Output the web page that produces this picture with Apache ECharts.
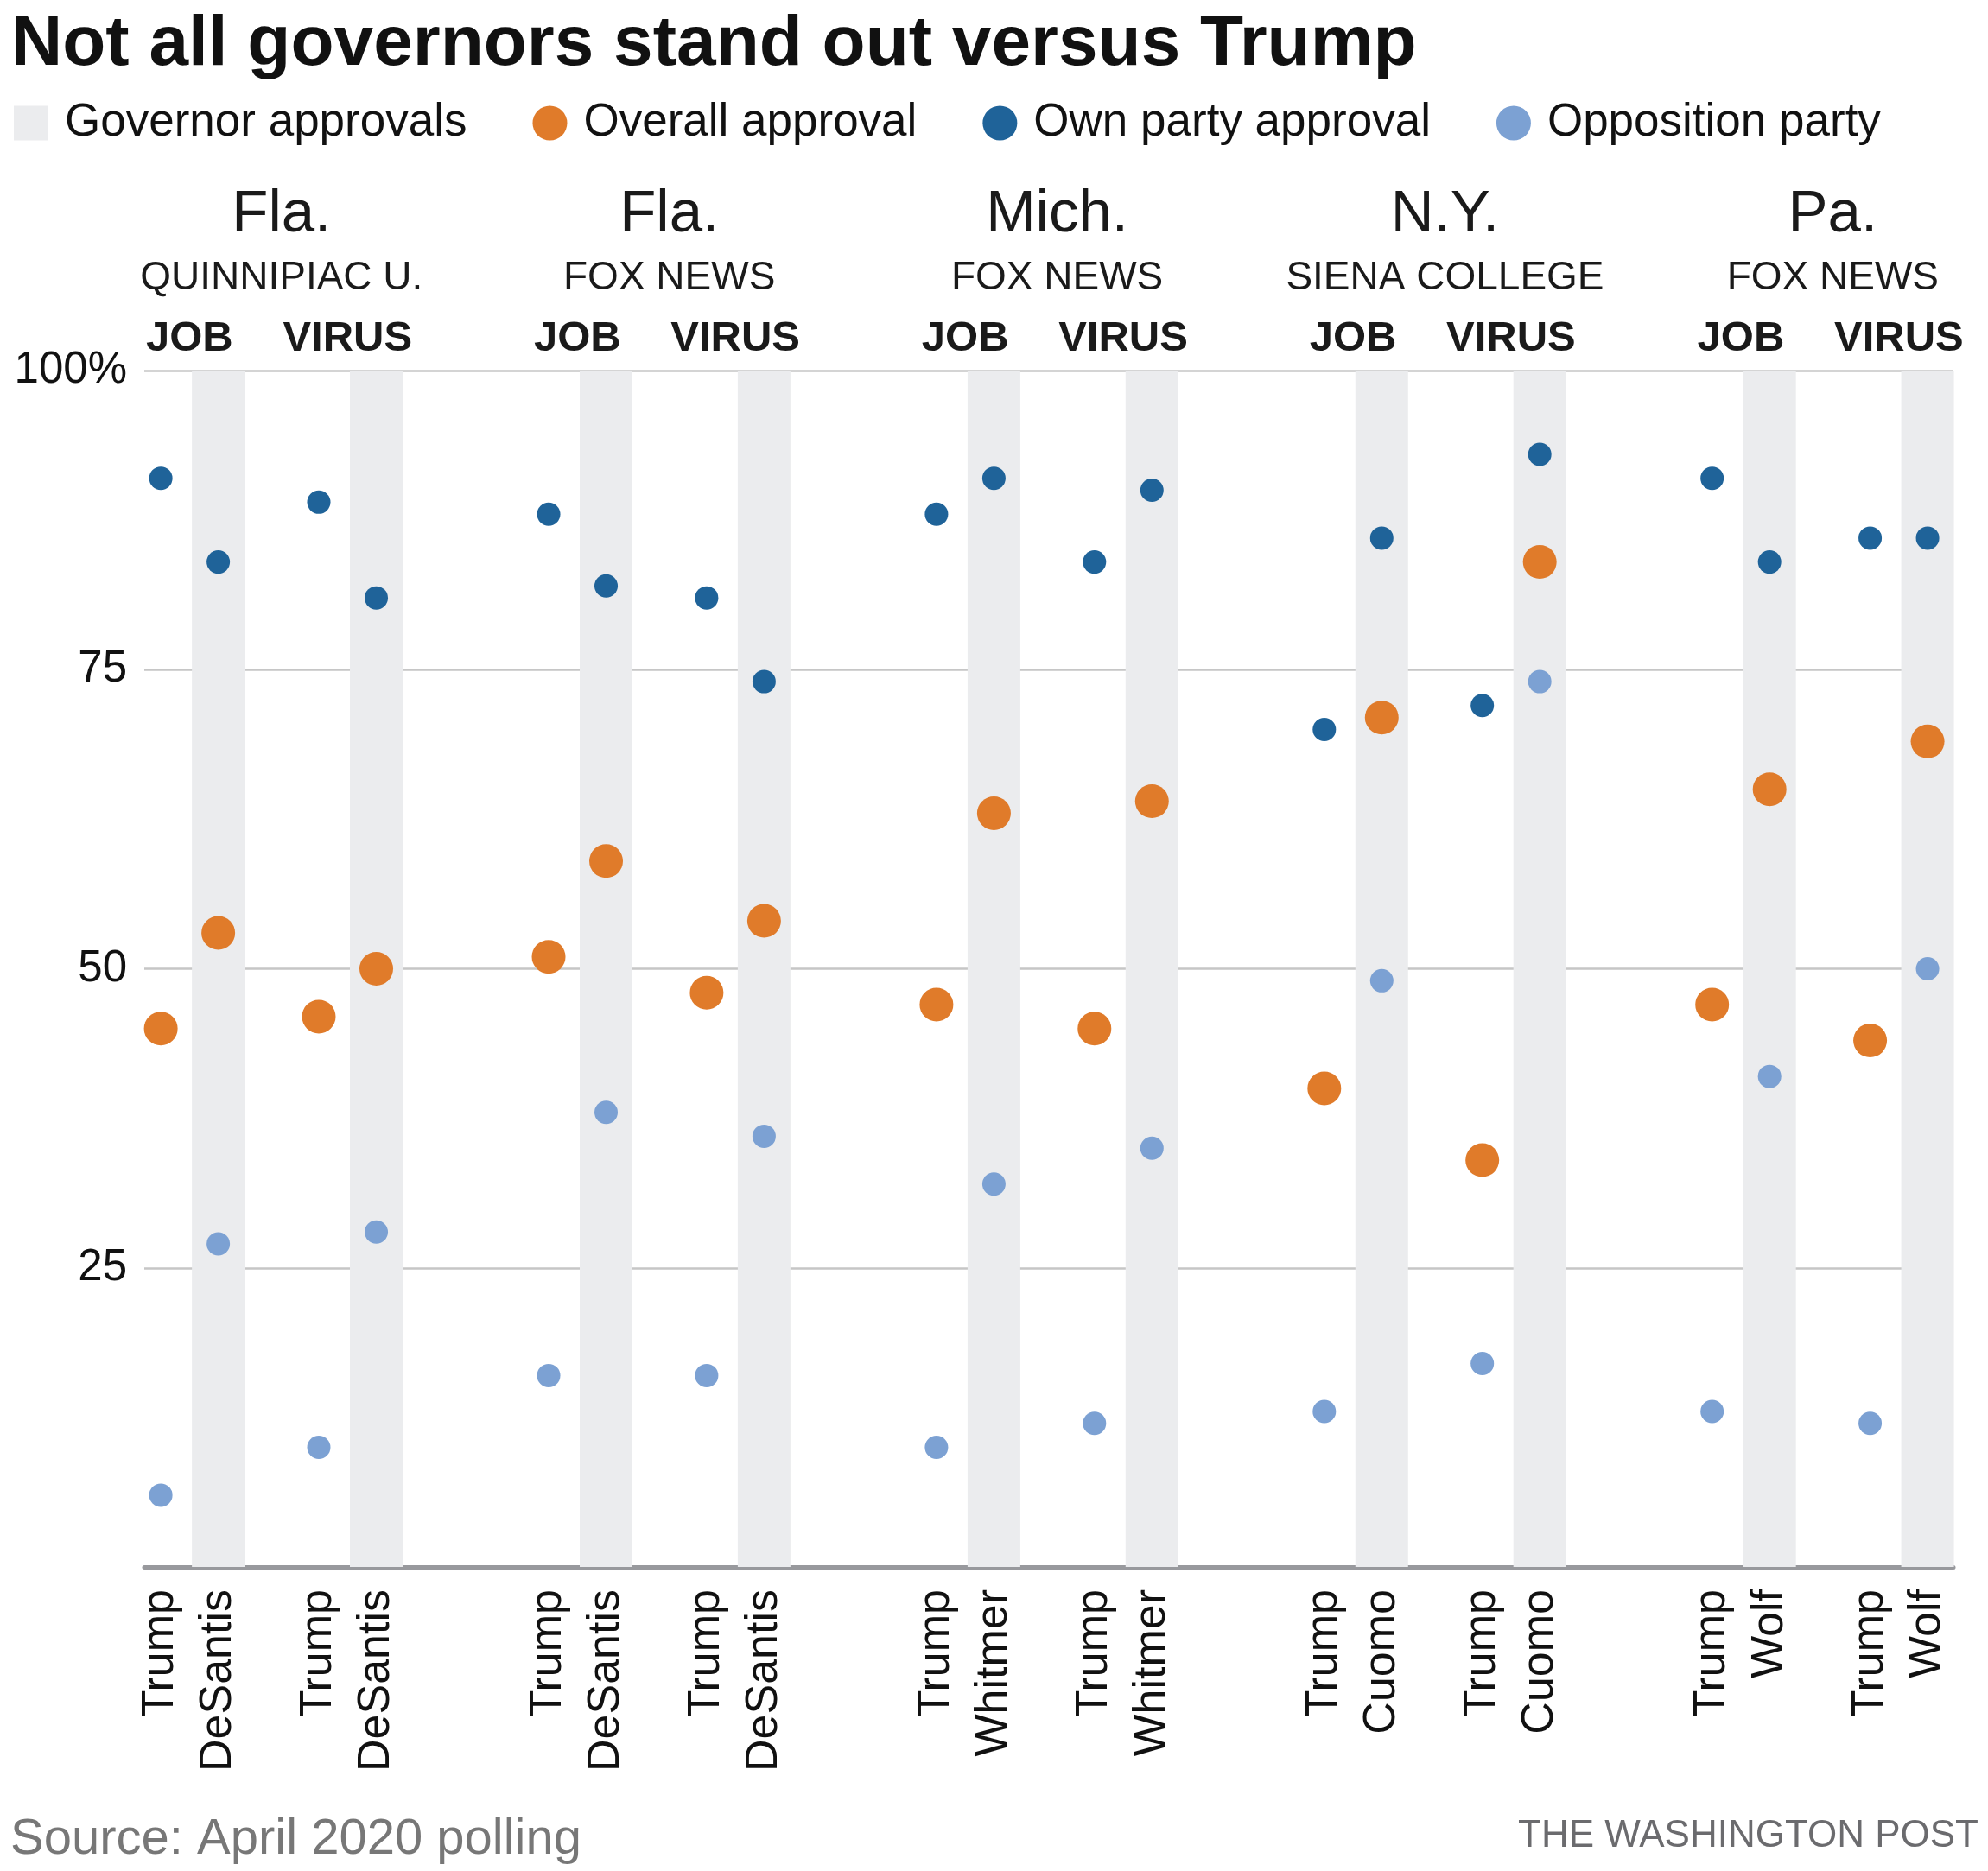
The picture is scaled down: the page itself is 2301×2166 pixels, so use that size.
<!DOCTYPE html>
<html><head><meta charset="utf-8">
<script src="https://cdn.jsdelivr.net/npm/echarts@6/dist/echarts.min.js"></script>
<style>html,body{margin:0;padding:0;background:#fff}#c{width:2301px;height:2166px}</style>
</head><body><div id="c"></div>
<script>
// ---- data ----
const states = ['Fla.', 'Fla.', 'Mich.', 'N.Y.', 'Pa.'];
const pollsters = ['QUINNIPIAC U.', 'FOX NEWS', 'FOX NEWS', 'SIENA COLLEGE', 'FOX NEWS'];
const governors = ['DeSantis', 'DeSantis', 'Whitmer', 'Cuomo', 'Wolf'];
const measures = ['JOB', 'VIRUS'];
// order within each state: Trump JOB, Governor JOB, Trump VIRUS, Governor VIRUS
const overallApproval = [45, 53, 46, 50, 51, 59, 48, 54, 47, 63, 45, 64, 40, 71, 34, 84, 47, 65, 44, 69];
const ownPartyApproval = [91, 84, 89, 81, 88, 82, 81, 74, 88, 91, 84, 90, 70, 86, 72, 93, 91, 84, 86, 86];
const oppositionParty = [6, 27, 10, 28, 16, 38, 16, 36, 10, 32, 12, 35, 13, 49, 17, 74, 13, 41, 12, 50];
const yTicks = [0, 25, 50, 75, 100];

// ---- layout (slot units on the x scale) ----
const GROUP = 27, PAIR = 11, CAND = 4;
const cols = [];
states.forEach((s, g) => measures.forEach((m, mi) => ['Trump', governors[g]].forEach((n, ci) => {
  cols.push({ x: g * GROUP + mi * PAIR + ci * CAND, name: n, gov: ci === 1 });
})));
const key = v => (Math.round(v * 100) / 100).toFixed(2);
function labelAxis(entries) {
  const map = {};
  entries.forEach(e => { map[key(e[0])] = e[1]; });
  return { values: entries.map(e => e[0]), fmt: v => map[key(v)] || '' };
}
const nameAx = labelAxis(cols.map(c => [c.x, c.name]));
const measAx = labelAxis([].concat(...states.map((s, g) => measures.map((m, mi) => [g * GROUP + mi * PAIR + 2.0, m]))));
const pollAx = labelAxis(pollsters.map((p, g) => [g * GROUP + 8.4, p]));
const stateAx = labelAxis(states.map((s, g) => [g * GROUP + 8.4, s]));

const XMIN = -1.15, XMAX = 124.8;
const SANS = "'Liberation Sans', Arial, sans-serif";

function topAxis(ax, margin, fontSize, fontWeight) {
  return {
    type: 'value', gridIndex: 0, position: 'top', offset: 0, min: XMIN, max: XMAX,
    axisLine: { show: false }, axisTick: { show: false }, splitLine: { show: false },
    axisLabel: { customValues: ax.values, formatter: ax.fmt, margin: margin, fontSize: fontSize,
      fontWeight: fontWeight, fontFamily: SANS, color: '#1a1a1a' }
  };
}

const chart = echarts.init(document.getElementById('c'), null, { renderer: 'canvas' });
chart.setOption({
  animation: false,
  backgroundColor: '#fff',
  title: {
    text: 'Not all governors stand out versus Trump', left: 8, top: 6,
    textStyle: { fontSize: 82, fontWeight: 'bold', color: '#111', fontFamily: SANS }
  },
  legend: {
    left: 11, top: 111, itemWidth: 40, itemHeight: 40, itemGap: 76, selectedMode: false,
    textStyle: { fontSize: 53, color: '#111', fontFamily: SANS, padding: [0, 0, 0, 14] },
    data: [
      { name: 'Governor approvals', icon: 'rect' },
      { name: 'Overall approval', icon: 'circle' },
      { name: 'Own party approval', icon: 'circle' },
      { name: 'Opposition party', icon: 'circle' }
    ]
  },
  grid: { left: 167, right: 40, top: 429, bottom: 352 },
  xAxis: [
    {
      type: 'value', min: XMIN, max: XMAX, position: 'bottom',
      splitLine: { show: false }, axisTick: { show: false },
      axisLine: { show: true, onZero: false, lineStyle: { color: '#98999d', width: 5 } },
      axisLabel: { customValues: nameAx.values, formatter: nameAx.fmt, rotate: 90, margin: 26,
        fontSize: 52, color: '#111', fontFamily: SANS }
    },
    topAxis(measAx, 12, 49, 'bold'),
    topAxis(pollAx, 84, 46, 'normal'),
    topAxis(stateAx, 146, 69, 'normal')
  ],
  yAxis: {
    type: 'value', min: 0, max: 100, interval: 25,
    axisLine: { show: false }, axisTick: { show: false },
    splitLine: { show: true, lineStyle: { color: '#c6c6c6', width: 2.5 } },
    axisLabel: { margin: 20, fontSize: 51, color: '#111', fontFamily: SANS,
      customValues: yTicks,
      formatter: v => v === 100 ? '100%' : (v === 0 ? '' : String(v)) }
  },
  series: [
    {
      name: 'Governor approvals', type: 'bar', silent: true, z: 1, barWidth: 61,
      itemStyle: { color: '#ebecee' },
      data: cols.filter(c => c.gov).map(c => [c.x, 100])
    },
    {
      name: 'Own party approval', type: 'scatter', symbolSize: 27, z: 3, silent: true,
      itemStyle: { color: '#1f6399', opacity: 1 },
      data: ownPartyApproval.map((v, i) => [cols[i].x, v])
    },
    {
      name: 'Opposition party', type: 'scatter', symbolSize: 27, z: 3, silent: true,
      itemStyle: { color: '#7ca1d3', opacity: 1 },
      data: oppositionParty.map((v, i) => [cols[i].x, v])
    },
    {
      name: 'Overall approval', type: 'scatter', symbolSize: 39, z: 4, silent: true,
      itemStyle: { color: '#e07b2a', opacity: 1 },
      data: overallApproval.map((v, i) => [cols[i].x, v])
    }
  ],
  graphic: [
    { type: 'text', x: 12, y: 2130, silent: true,
      style: { text: 'Source: April 2020 polling', fontSize: 58, fontFamily: SANS, fill: '#777',
        align: 'left', verticalAlign: 'middle' } },
    { type: 'text', x: 2290, y: 2126, silent: true,
      style: { text: 'THE WASHINGTON POST', fontSize: 44, fontFamily: SANS, fill: '#6b6b6e',
        align: 'right', verticalAlign: 'middle' } }
  ]
});
</script>
</body></html>
